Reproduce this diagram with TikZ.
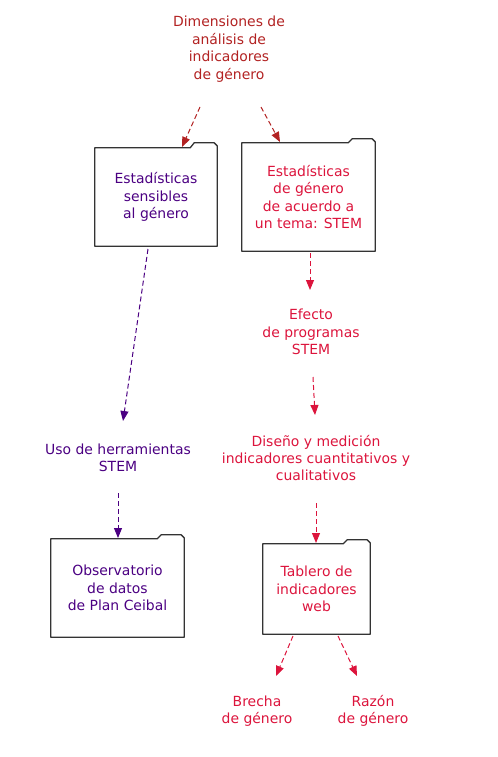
\documentclass[tikz,border=0pt]{standalone}
\usepackage{fontspec}
\setmainfont{DejaVu Sans}
\usetikzlibrary{arrows.meta}
\definecolor{fire}{HTML}{B22222}
\definecolor{indi}{HTML}{4B0082}
\definecolor{crim}{HTML}{DC143C}
\tikzset{
  txt/.style={align=center,inner sep=0pt,font=\fontsize{14}{17.5}\selectfont},
  boxnode/.style={txt,minimum width=#1,draw=none},
  conn/.style={line width=1bp,dash pattern=on 5bp off 3bp,-{Triangle[length=10bp,width=8bp]}},
  boxline/.style={line width=1.3bp,draw=black!80,line join=round}
}
\newcommand{\folderpath}[2]{%
  \draw[boxline] (#1.south west) -- (#1.north west) -- ([xshift=-27bp]#1.north east)
    -- ++(4,-#2) -- ([xshift=-3bp,yshift=#2 bp]#1.north east) -- ([yshift=#2 bp-3bp]#1.north east) -- (#1.south east) -- cycle;}
\begin{document}
\begin{tikzpicture}[x=1bp,y=-1bp]
\useasboundingbox (0,0) rectangle (498,757);
% free text
\node[txt,text=fire] (dim) at (229,49) {Dimensiones de\\análisis de\\indicadores\\de género};
\node[txt,text=indi] (uso) at (118,458) {Uso de herramientas\\STEM};
\node[txt,text=crim] (efecto) at (311,332) {Efecto\\de programas\\STEM};
\node[txt,text=crim] (diseno) at (316,458) {Diseño y medición\\indicadores cuantitativos y\\cualitativos};
\node[txt,text=crim] (brecha) at (257,711) {Brecha\\de género};
\node[txt,text=crim] (razon) at (373,711) {Razón\\de género};
% boxes
\node[boxnode=122bp,minimum height=98bp,text=indi] (b1) at (156,197) {Estadísticas\\sensibles\\al género};
\node[boxnode=133bp,minimum height=108bp,text=crim] (b2) at (308.5,197) {Estadísticas\\de género\\de acuerdo a\\un tema: STEM};
\node[boxnode=133bp,minimum height=98bp,text=indi] (b3) at (117.5,588) {Observatorio\\de datos\\de Plan Ceibal};
\node[boxnode=107bp,minimum height=90bp,text=crim] (b4) at (316.5,589) {Tablero de\\indicadores\\web};
\folderpath{b1}{5}
\folderpath{b2}{4}
\folderpath{b3}{4}
\folderpath{b4}{4}
% connector endpoints
\coordinate (d1) at (200,107);
\coordinate (d2) at (261,107);
\coordinate (b1in) at (182,147);
\coordinate (b2in) at (280,142);
\coordinate (b1out) at (148,249);
\coordinate (usoin) at (123,421);
\coordinate (usoout) at (118,493);
\coordinate (b3in) at (118,538);
\coordinate (b2out) at (310,253);
\coordinate (efin) at (310,290);
\coordinate (efout) at (313,377);
\coordinate (dsin) at (315,415);
\coordinate (dsout) at (316,503);
\coordinate (b4in) at (316,543);
\coordinate (b4l) at (293,636);
\coordinate (b4r) at (338,636);
\coordinate (brin) at (276,676);
\coordinate (rzin) at (357,676);
\draw[conn,fire] (d1) -- (b1in);
\draw[conn,fire] (d2) -- (b2in);
\draw[conn,indi] (b1out) -- (usoin);
\draw[conn,indi] (usoout) -- (b3in);
\draw[conn,crim] (b2out) -- (efin);
\draw[conn,crim] (efout) -- (dsin);
\draw[conn,crim] (dsout) -- (b4in);
\draw[conn,crim] (b4l) -- (brin);
\draw[conn,crim] (b4r) -- (rzin);
\end{tikzpicture}
\end{document}
